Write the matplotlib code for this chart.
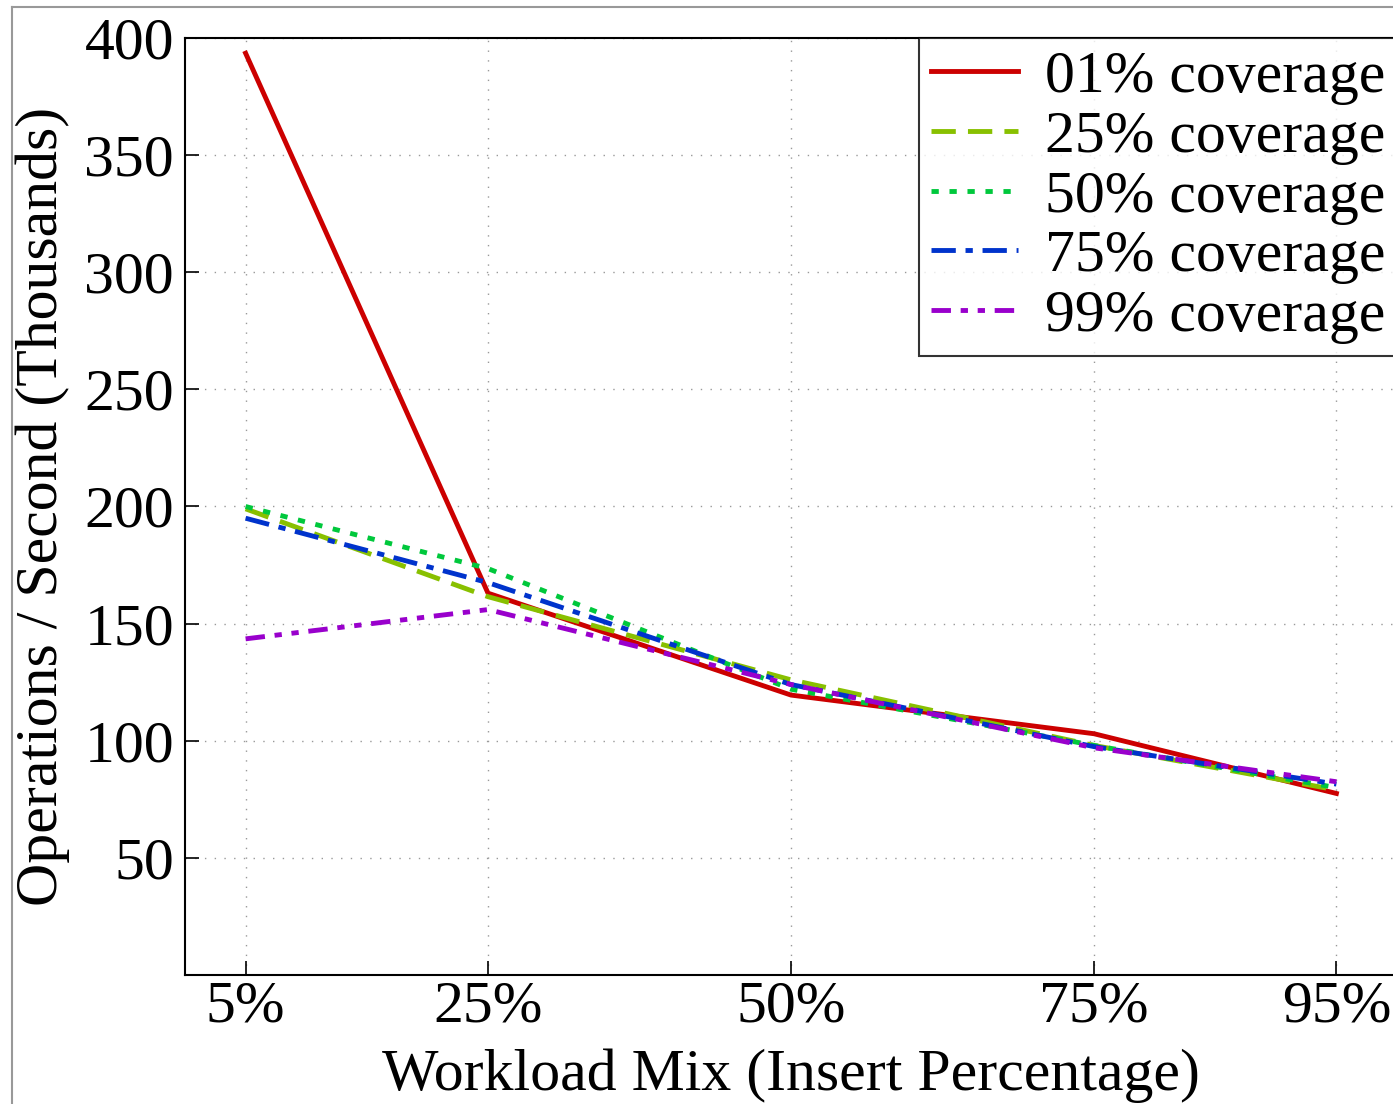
import matplotlib
matplotlib.use("Agg")
import matplotlib.pyplot as plt
from matplotlib.lines import Line2D

plt.rcParams['font.family'] = ['Liberation Serif', 'DejaVu Serif']

# Workload mix (insert percentage) and throughput in thousands of ops/sec
insert_pct = [5, 25, 50, 75, 95]
x_labels = ['5%', '25%', '50%', '75%', '95%']
cov_01 = [393.5, 163, 119.5, 103, 77.5]
cov_25 = [199, 161.5, 126, 98, 79]
cov_50 = [200, 173.5, 122, 98, 80]
cov_75 = [195, 167.5, 124, 97.5, 81.5]
cov_99 = [143.5, 156, 124, 97, 82.5]
series_labels = ['01% coverage', '25% coverage', '50% coverage',
                 '75% coverage', '99% coverage']
y_ticks = [50, 100, 150, 200, 250, 300, 350, 400]

FS = 43

fig = plt.figure(figsize=(13.93, 11.04), dpi=100)
ax = fig.add_axes([185 / 1393, 1 - 975 / 1104, (1397 - 185) / 1393, (975 - 38) / 1104])

styles = [
    dict(color='#cc0000', linestyle='-'),
    dict(color='#88c000', linestyle=(0, (5, 2.5))),
    dict(color='#00c83c', linestyle=(0, (1.5, 2.2))),
    dict(color='#0033cc', linestyle=(0, (5, 2, 1.5, 2))),
    dict(color='#9900cc', linestyle=(0, (4, 2, 1.5, 2, 1.5, 2))),
]
for vals, lab, st in zip([cov_01, cov_25, cov_50, cov_75, cov_99], series_labels, styles):
    ax.plot(insert_pct, vals, linewidth=3.5, label=lab, **st)

ax.set_xlim(0, 100)
ax.set_ylim(0, 400)
ax.set_xticks(insert_pct)
ax.set_xticklabels(x_labels)
ax.set_yticks(y_ticks)
ax.tick_params(direction='in', length=10, width=1.2, labelsize=FS, pad=8)
ax.tick_params(axis='x', pad=4)
ax.grid(True, linestyle=(0, (1, 6)), color='#999999', linewidth=1)
for sp in ax.spines.values():
    sp.set_linewidth(1.5)

ax.set_xlabel('Workload Mix (Insert Percentage)', fontsize=FS, labelpad=10)
ax.set_ylabel('Operations / Second (Thousands)', fontsize=FS, labelpad=10)

leg = ax.legend(loc='upper right', fontsize=FS, frameon=True, fancybox=False,
                edgecolor='black', borderaxespad=0, handlelength=1.45,
                labelspacing=0.085, handletextpad=0.45, borderpad=0.2)
leg.get_frame().set_linewidth(1.5)

# thin grey frame around the figure
fig.add_artist(Line2D([12 / 1393, 12 / 1393], [0, 1 - 7 / 1104], color='#999999', linewidth=1.5))
fig.add_artist(Line2D([12 / 1393, 1], [1 - 7 / 1104, 1 - 7 / 1104], color='#999999', linewidth=1.5))

fig.savefig('out.png', dpi=100)
